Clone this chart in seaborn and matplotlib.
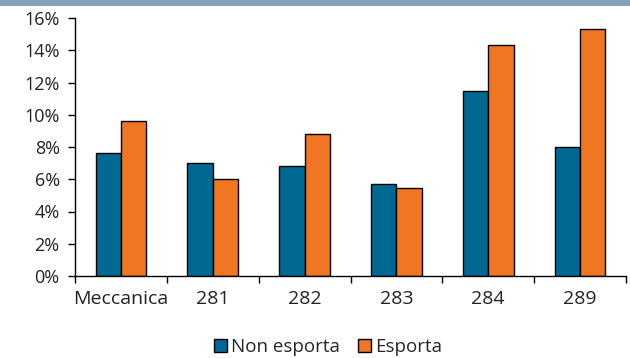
import pandas as pd
import matplotlib.pyplot as plt
import matplotlib.patches as mpatches
import seaborn as sns

# dati
settori = ["Meccanica", "281", "282", "283", "284", "289"]
non_esporta = [7.6, 7.0, 6.8, 5.7, 11.5, 8.0]
esporta = [9.6, 6.0, 8.8, 5.45, 14.3, 15.3]
serie = ["Non esporta", "Esporta"]
colori = ["#006993", "#f07624"]

df = pd.DataFrame({
    "settore": settori * 2,
    "valore": non_esporta + esporta,
    "gruppo": [serie[0]] * len(settori) + [serie[1]] * len(settori),
})

sns.set_style("white")
plt.rcParams["font.family"] = ["Open Sans", "DejaVu Sans"]

fig = plt.figure(figsize=(6.3, 3.58), dpi=100)
ax = fig.add_axes([75 / 630, 1 - 276 / 358, 551 / 630, 258 / 358])

sns.barplot(data=df, x="settore", y="valore", hue="gruppo", palette=colori,
            saturation=1, width=0.55, edgecolor="black", linewidth=1.0, ax=ax, legend=False)

ax.set_ylim(0, 16)
ax.set_yticks(range(0, 17, 2))
ax.set_yticklabels([f"{v}%" for v in range(0, 17, 2)], fontsize=13, color="#222222")
ax.set_xlim(-0.5, len(settori) - 0.5)
ax.set_xticks([i - 0.5 for i in range(len(settori) + 1)], minor=False)
ax.set_xticklabels([])
ax.set_xticks(range(len(settori)), minor=True)
ax.set_xticklabels(settori, minor=True, fontsize=14, color="#222222")
ax.tick_params(axis="x", which="major", direction="out", length=5, width=1, color="black", bottom=True)
ax.tick_params(axis="x", which="minor", length=0, pad=10)
ax.tick_params(axis="y", direction="out", length=5, width=1, color="black", left=True, pad=6)
ax.set_xlabel("")
ax.set_ylabel("")
for s in ["top", "right"]:
    ax.spines[s].set_visible(False)
for s in ["left", "bottom"]:
    ax.spines[s].set_color("black")
    ax.spines[s].set_linewidth(1)

# banda del titolo tagliata in alto
fig.patches.append(mpatches.Rectangle((0, 1 - 6 / 358), 1, 6 / 358, transform=fig.transFigure,
                                      facecolor="#86a2b9", edgecolor="none"))

handles = [mpatches.Patch(facecolor=c, edgecolor="black", linewidth=1, label=l)
           for c, l in zip(colori, serie)]
fig.legend(handles=handles, loc="center", bbox_to_anchor=(328 / 630, 1 - 347 / 358),
           ncol=2, frameon=False, fontsize=13.5, handlelength=0.7, handleheight=0.7,
           handletextpad=0.2, columnspacing=1.0)

fig.savefig("out.png", dpi=100)
